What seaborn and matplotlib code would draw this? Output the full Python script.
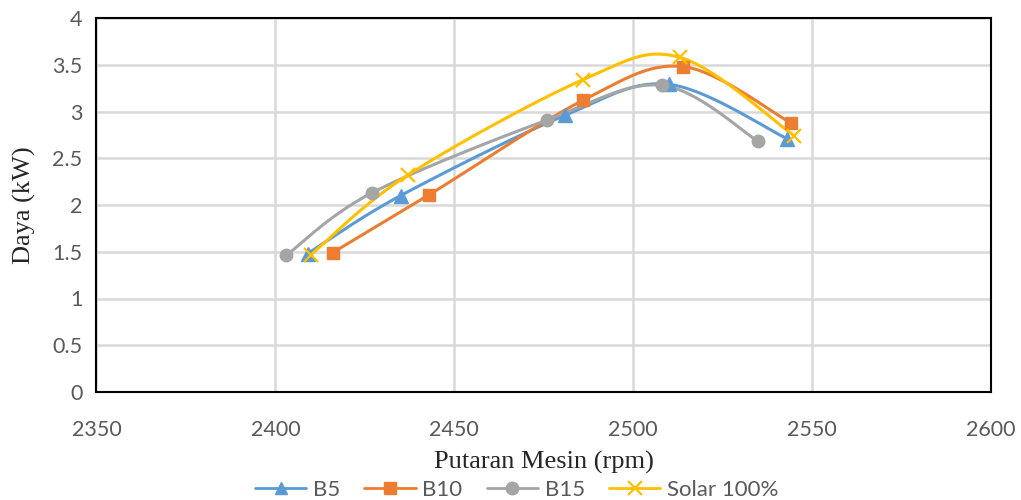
import numpy as np
import matplotlib
matplotlib.use("Agg")
import matplotlib.pyplot as plt
from matplotlib.lines import Line2D
import seaborn as sns
import pandas as pd

# Data
rpm_b5 = [2409, 2435, 2481, 2510, 2543]
kw_b5 = [1.48, 2.10, 2.96, 3.29, 2.71]

rpm_b10 = [2416, 2443, 2486, 2514, 2544]
kw_b10 = [1.49, 2.11, 3.12, 3.48, 2.88]

rpm_b15 = [2403, 2427, 2476, 2508, 2535]
kw_b15 = [1.46, 2.13, 2.91, 3.28, 2.68]

rpm_solar = [2410, 2437, 2486, 2513, 2545]
kw_solar = [1.47, 2.32, 3.34, 3.58, 2.74]

series_names = ["B5", "B10", "B15", "Solar 100%"]
colors = ["#5B9BD5", "#ED7D31", "#A5A5A5", "#FFC000"]
markers = ["^", "s", "o", "x"]

XMIN, XMAX = 2350, 2600
YMIN, YMAX = 0, 4


def smooth_curve(xs, ys, ax_w, ax_h, n=40):
    """Excel-like smoothed line (Catmull-Rom bezier) computed in pixel space"""
    px = (np.asarray(xs, float) - XMIN) / (XMAX - XMIN) * ax_w
    py = (np.asarray(ys, float) - YMIN) / (YMAX - YMIN) * ax_h
    pts = np.column_stack([px, py])
    pts = np.vstack([pts[0], pts, pts[-1]])
    out = []
    t = np.linspace(0, 1, n)[:, None]
    for i in range(1, len(pts) - 2):
        p0, p1, p2, p3 = pts[i - 1], pts[i], pts[i + 1], pts[i + 2]
        c1 = p1 + (p2 - p0) / 6
        c2 = p2 - (p3 - p1) / 6
        seg = ((1 - t) ** 3) * p1 + 3 * ((1 - t) ** 2) * t * c1 + 3 * (1 - t) * t ** 2 * c2 + t ** 3 * p2
        out.append(seg if i == 1 else seg[1:])
    out = np.vstack(out)
    cx = out[:, 0] / ax_w * (XMAX - XMIN) + XMIN
    cy = out[:, 1] / ax_h * (YMAX - YMIN) + YMIN
    return cx, cy


sns.set_style("white")
plt.rcParams['font.family'] = ['Lato', 'DejaVu Sans']

fig = plt.figure(figsize=(10.21, 5.0), dpi=100)
ax = fig.add_axes([0.0945, 0.216, 0.876, 0.748])
ax_w, ax_h = 0.876 * 1021, 0.748 * 500

all_data = [(rpm_b5, kw_b5), (rpm_b10, kw_b10), (rpm_b15, kw_b15), (rpm_solar, kw_solar)]

for (xs, ys), name, col, mk in zip(all_data, series_names, colors, markers):
    cx, cy = smooth_curve(xs, ys, ax_w, ax_h)
    curve = pd.DataFrame({"x": cx, "y": cy})
    sns.lineplot(data=curve, x="x", y="y", sort=False, color=col, linewidth=2.2, ax=ax, zorder=3)
    if mk == "x":
        ax.plot(xs, ys, linestyle="none", marker="x", markersize=10, markeredgewidth=1.6,
                color=col, zorder=4)
    else:
        size = 9.5 if mk == "^" else 9
        ax.plot(xs, ys, linestyle="none", marker=mk, markersize=size, color=col,
                markeredgecolor=col, zorder=4)

ax.set_xlim(XMIN, XMAX)
ax.set_ylim(YMIN, YMAX)
ax.set_xticks(np.arange(2350, 2601, 50))
ax.set_yticks(np.arange(0, 4.01, 0.5))
ax.set_yticklabels(["0", "0.5", "1", "1.5", "2", "2.5", "3", "3.5", "4"])
ax.grid(True, color="#d9d9d9", linewidth=1.8, zorder=0)
ax.set_axisbelow(True)
for sp in ax.spines.values():
    sp.set_color("black")
    sp.set_linewidth(1.5)
    sp.set_visible(True)

ax.tick_params(axis="both", labelsize=15.5, labelcolor="#595959", length=0, pad=10)
ax.tick_params(axis="x", pad=20)

ax.set_xlabel("Putaran Mesin (rpm)", fontsize=19, family="Liberation Serif", labelpad=8)
ax.set_ylabel("Daya (kW)", fontsize=19, family="Liberation Serif", labelpad=12)

handles = []
for name, col, mk in zip(series_names, colors, markers):
    if mk == "x":
        h = Line2D([0], [0], color=col, linewidth=2, marker="x", markersize=10, markeredgewidth=1.6)
    else:
        h = Line2D([0], [0], color=col, linewidth=2, marker=mk, markersize=9, markeredgecolor=col)
    handles.append(h)
fig.legend(handles, series_names, loc="center", bbox_to_anchor=(0.506, 0.02), ncol=4,
           frameon=False, fontsize=16, handlelength=2.3, columnspacing=1.1, handletextpad=0.3,
           labelcolor="#595959", borderpad=0.2)

fig.savefig("out.png", dpi=100)
plt.close(fig)
